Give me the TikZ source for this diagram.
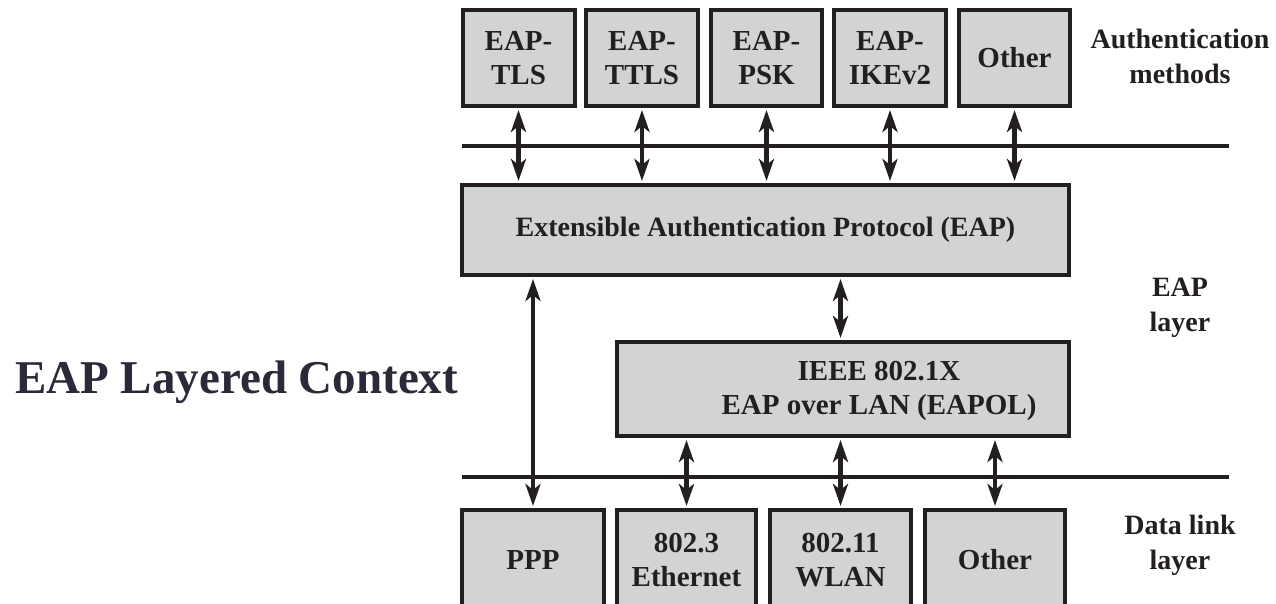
\documentclass[tikz,border=0pt]{standalone}
\usepackage{fontspec}
\setmainfont{Liberation Serif}
\usetikzlibrary{arrows.meta}
\definecolor{boxfill}{HTML}{D1D3D4}
\definecolor{ink}{HTML}{231F20}
\definecolor{titleink}{HTML}{2A2A38}

\begin{document}
\begin{tikzpicture}[x=1pt,y=-1pt,
  layerbox/.style={draw=ink, fill=boxfill, line width=4pt, inner sep=0pt,
    font=\fontsize{29}{34}\selectfont\bfseries, text=ink, align=center},
  bus/.style={draw=ink, line width=4pt},
  link/.style={draw=ink, line width=4.5pt,
    {Stealth[length=22pt,width=15pt,inset=6pt]}-{Stealth[length=22pt,width=15pt,inset=6pt]},
    shorten <=2pt, shorten >=2pt},
  boxtext/.style={font=\fontsize{29}{34}\selectfont\bfseries, text=ink, align=center},
  sidelabel/.style={font=\fontsize{28}{35}\selectfont\bfseries, text=ink, align=center},
  titletext/.style={font=\fontsize{47}{56}\selectfont\bfseries, text=titleink}]
\useasboundingbox (0,0) rectangle (1276,604);

% authentication methods
\node[layerbox, minimum width=112, minimum height=96] (tls)   at (518.5,58) {EAP-\\TLS};
\node[layerbox, minimum width=112, minimum height=96] (ttls)  at (642,58)   {EAP-\\TTLS};
\node[layerbox, minimum width=111, minimum height=96] (psk)   at (766.5,58) {EAP-\\PSK};
\node[layerbox, minimum width=112, minimum height=96] (ikev)  at (890,58)   {EAP-\\IKEv2};
\node[layerbox, minimum width=111, minimum height=96] (othA)  at (1014.5,58) {Other};

% EAP layer
\node[layerbox, minimum width=607, minimum height=90] (eap) at (765.5,230)
  {\fontsize{28}{34}\selectfont Extensible Authentication Protocol (EAP)};
\node[layerbox, minimum width=452, minimum height=94] (eapol) at (843,389) {};
\node[boxtext] (eapoltext) at (879,391) {IEEE 802.1X\\EAP over LAN (EAPOL)};

% data link layer
\node[layerbox, minimum width=142, minimum height=100] (ppp)  at (533,560)   {PPP};
\node[layerbox, minimum width=139, minimum height=100] (eth)  at (686.5,560) {802.3\\Ethernet};
\node[layerbox, minimum width=141, minimum height=100] (wlan) at (840.5,560) {802.11\\WLAN};
\node[layerbox, minimum width=140, minimum height=100] (othB) at (995,560)   {Other};

% layer boundaries
\coordinate (upperW) at (462,146);
\coordinate (upperE) at (1229,146);
\coordinate (lowerW) at (462,477);
\coordinate (lowerE) at (1229,477);
\draw[bus] (upperW) -- (upperE);
\draw[bus] (lowerW) -- (lowerE);

% method <-> EAP
\foreach \m in {tls,ttls,psk,ikev,othA}
  \draw[link] (\m.south) -- (\m.south |- eap.north);

% EAP <-> lower layers
\draw[link] (eap.south -| ppp) -- (ppp.north);
\draw[link] (eap.south -| wlan) -- (eapol.north -| wlan);
\draw[link] (eapol.south -| eth) -- (eth.north);
\draw[link] (eapol.south -| wlan) -- (wlan.north);
\draw[link] (eapol.south -| othB) -- (othB.north);

% side labels
\node[sidelabel] (lblAuth) at (1180,56)  {Authentication\\methods};
\node[sidelabel] (lblEap)  at (1180,308) {EAP\\layer};
\node[sidelabel] (lblLink) at (1180,545) {Data link\\layer};

% title
\node[titletext, anchor=base west, inner sep=0pt] (title) at (15,393) {EAP Layered Context};
\end{tikzpicture}
\end{document}
